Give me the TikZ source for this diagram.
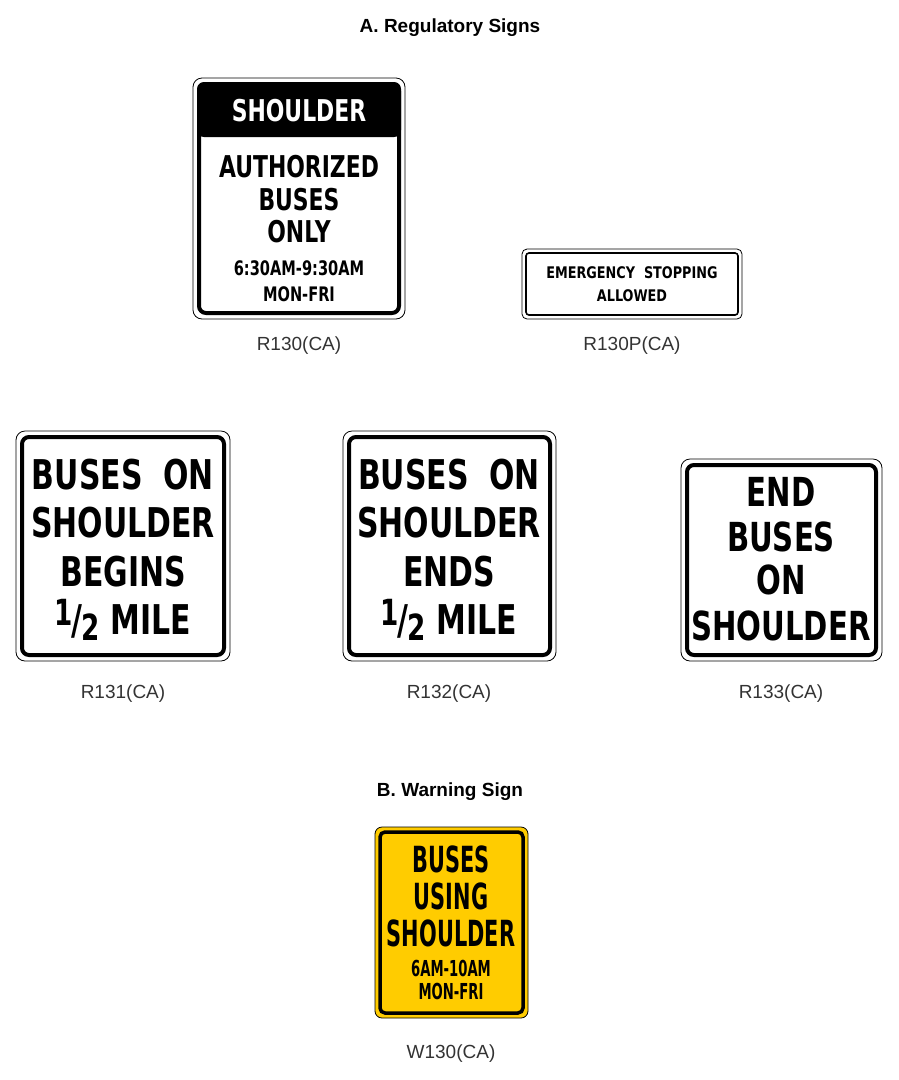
\documentclass[tikz,border=0pt]{standalone}
\usepackage{fontspec}
\setmainfont{Liberation Sans}
\newfontfamily\signf{DejaVu Sans}
\definecolor{wyel}{HTML}{FFCC00}
\newcommand{\sgt}[3][0.73]{\scalebox{#1}[1]{\fontsize{#2}{#2}\signf\bfseries #3}}
\newcommand{\half}{\raisebox{0.2em}{\fontsize{36}{36}\selectfont 1}\kern-0.05em/\kern-0.02em\raisebox{-0.15em}{\fontsize{36}{36}\selectfont 2}}
\begin{document}
\begin{tikzpicture}[x=1pt,y=-1pt,
 outer/.style={draw=black,line width=0.8pt,rounded corners=9pt,fill=white},
 inner/.style={draw=black,line width=4pt,rounded corners=7pt},
 lab/.style={font=\fontsize{19}{19}\selectfont,text=black!80},
 ttl/.style={font=\fontsize{19}{19}\selectfont\bfseries},
 t/.style={inner sep=0pt}]
\useasboundingbox (0,0) rectangle (898,1080);
\node[ttl] (ta) at (450,28) {A. Regulatory Signs};
\node[ttl] (tb) at (450,792) {B. Warning Sign};
% R130
\draw[outer] (193,78) rectangle (405,319);
\fill[black,rounded corners=7pt] (197,82) rectangle (401,137);
\draw[inner] (199,84) rectangle (399,313);
\node[t,text=white] (s1) at (299,111) {\sgt{30}{SHOULDER}};
\node[t] (s2) at (299,167) {\sgt{30}{AUTHORIZED}};
\node[t] (s3) at (299,200) {\sgt{30}{BUSES}};
\node[t] (s4) at (299,232) {\sgt{30}{ONLY}};
\node[t] (s5) at (299,268) {\sgt{20}{6:30AM-9:30AM}};
\node[t] (s6) at (299,294) {\sgt{20}{MON-FRI}};
\node[lab] (l1) at (299,346) {R130(CA)};
% R130P
\draw[outer,rounded corners=5pt] (522,249) rectangle (742,319);
\draw[draw=black,line width=1.6pt,rounded corners=3pt] (526,253) rectangle (738,315);
\node[t] (p1) at (632,273) {\sgt[0.8]{16}{EMERGENCY\ \ STOPPING}};
\node[t] (p2) at (632,296) {\sgt[0.8]{16}{ALLOWED}};
\node[lab] (l2) at (632,346) {R130P(CA)};
% R131
\draw[outer] (16,431) rectangle (230,661);
\draw[inner] (22,437) rectangle (224,655);
\node[t] (a1) at (123,475) {\sgt{41}{BUSES\ \ ON}};
\node[t] (a2) at (123,523) {\sgt{41}{SHOULDER}};
\node[t] (a3) at (123,572) {\sgt{41}{BEGINS}};
\node[t] (a4) at (123,620) {\sgt{41}{\half\ MILE}};
\node[lab] (l3) at (123,694) {R131(CA)};
% R132
\draw[outer] (343,431) rectangle (556,661);
\draw[inner] (349,437) rectangle (550,655);
\node[t] (b1) at (449,475) {\sgt{41}{BUSES\ \ ON}};
\node[t] (b2) at (449,523) {\sgt{41}{SHOULDER}};
\node[t] (b3) at (449,572) {\sgt{41}{ENDS}};
\node[t] (b4) at (449,620) {\sgt{41}{\half\ MILE}};
\node[lab] (l4) at (449,694) {R132(CA)};
% R133
\draw[outer] (681,459) rectangle (882,661);
\draw[inner] (687,465) rectangle (876,655);
\node[t] (c1) at (781,492) {\sgt{40}{END}};
\node[t] (c2) at (781,537) {\sgt{40}{BUSES}};
\node[t] (c3) at (781,580) {\sgt{40}{ON}};
\node[t] (c4) at (781,626) {\sgt{40}{SHOULDER}};
\node[lab] (l5) at (781,694) {R133(CA)};
% W130
\draw[outer,fill=wyel,rounded corners=7pt] (375,827) rectangle (528,1018);
\draw[inner,line width=3.5pt,rounded corners=5pt] (380,832) rectangle (523,1013);
\node[t] (w1) at (451,859) {\sgt[0.58]{36}{BUSES}};
\node[t] (w2) at (451,896) {\sgt[0.58]{36}{USING}};
\node[t] (w3) at (451,933) {\sgt[0.58]{36}{SHOULDER}};
\node[t] (w4) at (451,968) {\sgt[0.6]{22}{6AM-10AM}};
\node[t] (w5) at (451,991) {\sgt[0.6]{22}{MON-FRI}};
\node[lab] (l6) at (451,1054) {W130(CA)};
\end{tikzpicture}
\end{document}
